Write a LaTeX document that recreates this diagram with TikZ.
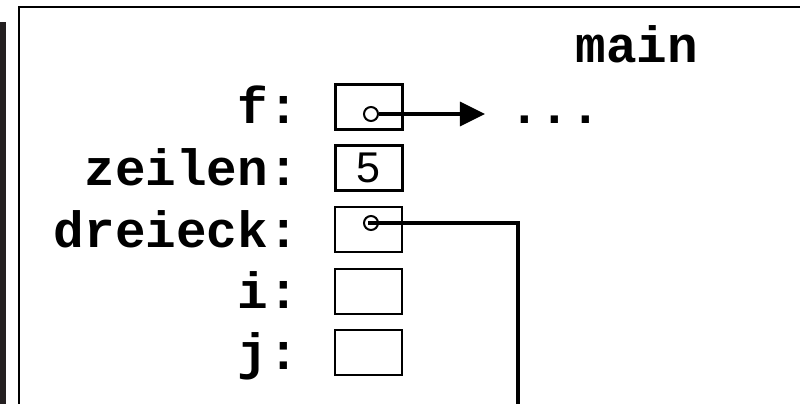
\documentclass[tikz,border=0pt]{standalone}
\usepackage{fontspec}
\setmonofont{Liberation Mono}
\setsansfont{Liberation Sans}
\usetikzlibrary{arrows.meta}
\definecolor{barcol}{HTML}{231F20}

\begin{document}
\begin{tikzpicture}[x=1pt,y=-1pt,
  code/.style={inner sep=0pt, font=\ttfamily\bfseries\fontsize{51}{51}\selectfont},
  lbl/.style={code, anchor=base east},
  cell/.style={draw, line width=2pt, minimum width=67pt, minimum height=45pt, inner sep=0pt},
  thickcell/.style={cell, line width=3pt},
  ptr/.style={draw, circle, line width=2pt, minimum size=14pt, inner sep=0pt},
  link/.style={line width=3.5pt}]
  \useasboundingbox (0,0) rectangle (800,404);

  % page edge and frame of the stack frame
  \fill[barcol] (0,22) rectangle (6,404);
  \draw[line width=2.5pt] (19,406) -- (19,7) -- (802,7);

  % frame title
  \node[code, anchor=base] (title) at (637,63) {main};

  % variable names
  \node[lbl] (lf) at (299,123) {f:};
  \node[lbl] (lz) at (299,185) {zeilen:};
  \node[lbl] (ld) at (299,247) {dreieck:};
  \node[lbl] (li) at (299,308) {i:};
  \node[lbl] (lj) at (299,369) {j:};

  % storage cells
  \node[thickcell] (cf) at (368.5,107) {};
  \node[thickcell] (cz) at (368.5,168) {};
  \node[cell] (cd) at (368.5,229.5) {};
  \node[cell] (ci) at (368.5,291) {};
  \node[cell] (cj) at (368.5,352.5) {};

  % value of zeilen
  \node[inner sep=0pt, font=\sffamily\fontsize{43}{43}\selectfont] (five) at (368,168) {5};

  % pointer f
  \node[ptr] (pf) at (371,114) {};
  \node[code, anchor=base] (dots) at (555,123) {...};
  \draw[link, -{Triangle[length=25pt,width=24pt]}, shorten >=24pt]
    (pf.east) -- (pf.east -| dots.west);

  % pointer dreieck
  \node[ptr] (pd) at (371,223) {};
  \coordinate (down) at (518,406);
  \draw[link] ([xshift=-3pt]pd.center) -| (down);
\end{tikzpicture}
\end{document}
